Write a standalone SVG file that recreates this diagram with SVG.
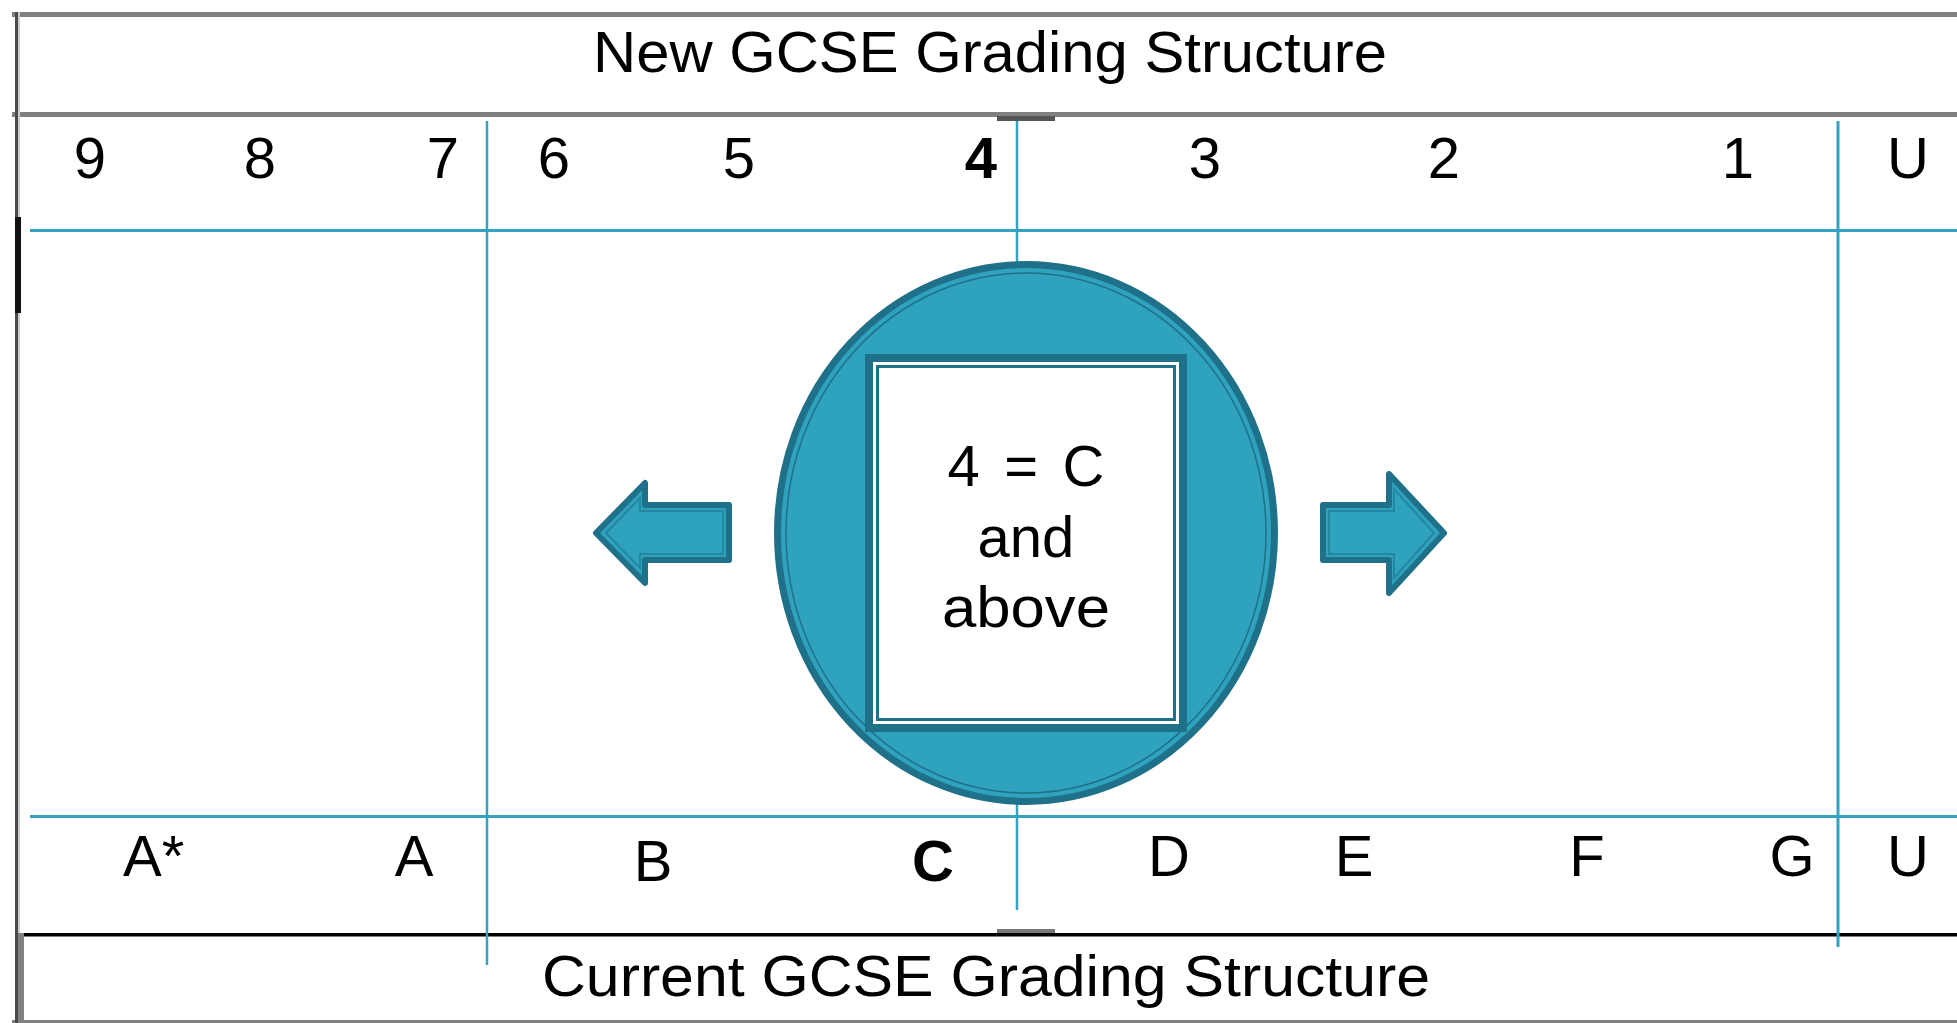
<svg xmlns="http://www.w3.org/2000/svg" width="1957" height="1023" viewBox="0 0 1957 1023">
<style>
.t{font-family:"Liberation Sans",Arial,sans-serif;font-size:58px;fill:#000}
.m{text-anchor:middle}
.b{font-weight:bold}
.grid{stroke:#35A2BF;fill:none}
.arrow{fill:#2FA2BE;stroke:#1F7089;stroke-width:6;stroke-linejoin:round}
.bevel{fill:none;stroke:#2586A0;stroke-width:2;stroke-linejoin:miter}
</style>
<rect width="1957" height="1023" fill="#ffffff"/>
<g id="frame">
<rect x="12" y="12" width="1945" height="5" fill="#808080"/>
<rect x="12" y="112" width="1945" height="5" fill="#808080"/>
<rect x="997" y="116" width="58" height="5" fill="#555555"/>
<rect x="18" y="933" width="1939" height="3.5" fill="#000000"/>
<rect x="997" y="929" width="58" height="4" fill="#777777"/>
<rect x="12" y="1020" width="1945" height="3" fill="#808080"/>
<rect x="15" y="12" width="3" height="1011" fill="#4a4a4a"/>
<rect x="18" y="12" width="2" height="921" fill="#cccccc"/>
<rect x="15" y="217" width="6" height="96" fill="#111111"/>
<rect x="18" y="933" width="6" height="90" fill="#808080"/>
</g>
<g id="connectors">
<line class="grid" x1="30" y1="230.5" x2="1957" y2="230.5" stroke-width="3"/>
<line class="grid" x1="30" y1="816.5" x2="1957" y2="816.5" stroke-width="3"/>
<line class="grid" x1="487" y1="121" x2="487" y2="965" stroke-width="2.5"/>
<line class="grid" x1="1017" y1="121" x2="1017" y2="910" stroke-width="2.5"/>
<line class="grid" x1="1838" y1="121" x2="1838" y2="947" stroke-width="3"/>
</g>
<g id="title-new">
<text class="t" x="593" y="72" textLength="794" lengthAdjust="spacingAndGlyphs">New GCSE Grading Structure</text>
</g>
<g id="title-current">
<text class="t" x="542" y="996" textLength="888" lengthAdjust="spacingAndGlyphs">Current GCSE Grading Structure</text>
</g>
<g id="new-grades">
<text class="t m" x="90" y="178">9</text>
<text class="t m" x="260" y="178">8</text>
<text class="t m" x="443" y="178">7</text>
<text class="t m" x="554" y="178">6</text>
<text class="t m" x="739" y="178">5</text>
<text class="t m b" x="981" y="178">4</text>
<text class="t m" x="1205" y="178">3</text>
<text class="t m" x="1444" y="178">2</text>
<text class="t m" x="1738" y="178">1</text>
<text class="t m" x="1908" y="178">U</text>
</g>
<g id="current-grades">
<text class="t" x="123" y="876">A*</text>
<text class="t m" x="414" y="876">A</text>
<text class="t m" x="653" y="881">B</text>
<text class="t m b" x="933" y="881">C</text>
<text class="t m" x="1169" y="876">D</text>
<text class="t m" x="1354" y="876">E</text>
<text class="t m" x="1587" y="876">F</text>
<text class="t m" x="1792" y="876">G</text>
<text class="t m" x="1908" y="876">U</text>
</g>
<g id="left-arrow">
<path class="arrow" d="M596,533 L645,483 L645,505 L729,505 L729,560 L645,560 L645,583 Z"/>
<path class="bevel" d="M606,533 L640,498 L640,511 L723,511 L723,554 L640,554 L640,568 Z"/>
</g>
<g id="right-arrow">
<path class="arrow" d="M1323,505 L1389,505 L1389,474 L1444,533 L1389,593 L1389,560 L1323,560 Z"/>
<path class="bevel" d="M1329,511 L1394,511 L1394,489 L1434,533 L1394,578 L1394,554 L1329,554 Z"/>
</g>
<g id="center-circle">
<ellipse cx="1026" cy="533" rx="248.5" ry="268.5" fill="#2FA2BE" stroke="#1F7089" stroke-width="7"/>
<ellipse cx="1026" cy="533" rx="240" ry="260" fill="none" stroke="#1F7089" stroke-width="1.5"/>
<rect x="865" y="354" width="322" height="378" fill="#1F7089"/>
<rect x="873" y="362" width="306" height="362" fill="#ffffff"/>
<rect x="877.5" y="366.5" width="297" height="353" fill="#ffffff" stroke="#1F7089" stroke-width="3"/>
<text class="t m" x="1026" y="486" textLength="157" lengthAdjust="spacing">4 = C</text>
<text class="t m" x="1026" y="557">and</text>
<text class="t m" x="1026" y="627" textLength="168" lengthAdjust="spacingAndGlyphs">above</text>
</g>
</svg>
